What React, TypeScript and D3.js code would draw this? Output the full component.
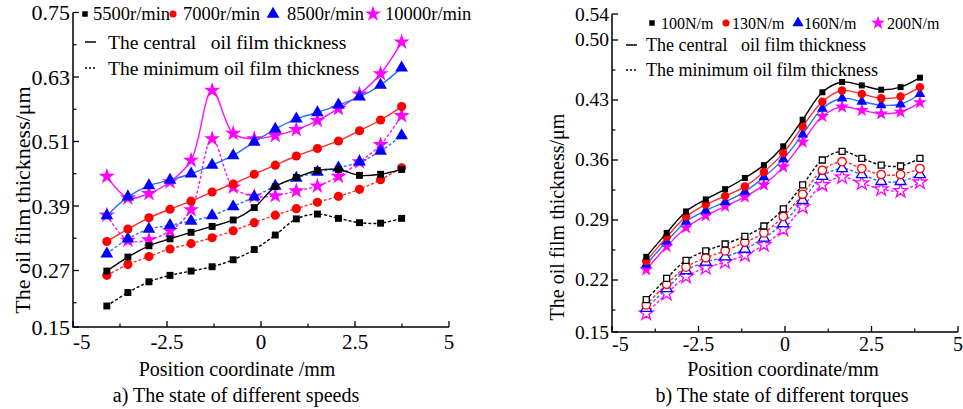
import React from 'react';
import * as d3 from 'd3';

const W = 963;
const H = 409;
const FONT = '"Liberation Serif", "Times New Roman", serif';

// x positions of the measuring points (mm)
const speedX = [-4.1, -3.54, -2.98, -2.42, -1.86, -1.3, -0.74, -0.18, 0.38, 0.94, 1.5, 2.06, 2.62, 3.18, 3.74];
const torqueX = [-4.01, -3.42, -2.86, -2.29, -1.73, -1.16, -0.61, -0.05, 0.51, 1.08, 1.65, 2.22, 2.78, 3.34, 3.9];

// a) different speeds, central / minimum film thickness (um)
const central5500 = [0.269, 0.295, 0.316, 0.329, 0.341, 0.352, 0.364, 0.387, 0.426, 0.443, 0.456, 0.458, 0.447, 0.449, 0.458];
const minimum5500 = [0.204, 0.229, 0.249, 0.261, 0.269, 0.277, 0.29, 0.309, 0.336, 0.366, 0.375, 0.367, 0.359, 0.358, 0.367];
const central7000 = [0.324, 0.347, 0.368, 0.384, 0.399, 0.416, 0.431, 0.449, 0.466, 0.483, 0.497, 0.511, 0.53, 0.55, 0.575];
const minimum7000 = [0.261, 0.281, 0.296, 0.31, 0.32, 0.331, 0.344, 0.359, 0.373, 0.385, 0.397, 0.408, 0.421, 0.439, 0.461];
const central8500 = [0.372, 0.407, 0.428, 0.438, 0.45, 0.466, 0.484, 0.509, 0.533, 0.552, 0.564, 0.578, 0.593, 0.615, 0.647];
const minimum8500 = [0.301, 0.329, 0.347, 0.354, 0.362, 0.372, 0.389, 0.407, 0.427, 0.442, 0.453, 0.461, 0.472, 0.492, 0.521];
const central10000 = [0.445, 0.405, 0.413, 0.435, 0.475, 0.605, 0.525, 0.515, 0.521, 0.532, 0.549, 0.571, 0.598, 0.636, 0.695];
const minimum10000 = [0.373, 0.326, 0.327, 0.344, 0.383, 0.515, 0.425, 0.408, 0.409, 0.418, 0.427, 0.445, 0.472, 0.504, 0.558];

// b) different torques
const central100 = [0.247, 0.275, 0.3, 0.314, 0.326, 0.339, 0.354, 0.376, 0.407, 0.439, 0.451, 0.447, 0.442, 0.445, 0.456];
const central130 = [0.242, 0.27, 0.294, 0.308, 0.318, 0.329, 0.346, 0.368, 0.399, 0.428, 0.441, 0.437, 0.432, 0.434, 0.445];
const central160 = [0.238, 0.265, 0.288, 0.301, 0.311, 0.323, 0.34, 0.361, 0.39, 0.42, 0.432, 0.428, 0.424, 0.425, 0.437];
const central200 = [0.232, 0.259, 0.281, 0.295, 0.306, 0.317, 0.331, 0.352, 0.381, 0.411, 0.422, 0.418, 0.414, 0.416, 0.427];
const minimum100 = [0.197, 0.222, 0.243, 0.254, 0.262, 0.271, 0.283, 0.303, 0.331, 0.36, 0.37, 0.362, 0.354, 0.353, 0.362];
const minimum130 = [0.191, 0.215, 0.235, 0.246, 0.254, 0.264, 0.275, 0.294, 0.32, 0.348, 0.358, 0.35, 0.343, 0.343, 0.35];
const minimum160 = [0.187, 0.21, 0.231, 0.241, 0.247, 0.256, 0.269, 0.286, 0.313, 0.341, 0.35, 0.343, 0.335, 0.335, 0.343];
const minimum200 = [0.181, 0.204, 0.224, 0.234, 0.241, 0.249, 0.261, 0.279, 0.305, 0.331, 0.34, 0.333, 0.326, 0.324, 0.334];

const speedLabels = ['5500r/min', '7000r/min', '8500r/min', '10000r/min'];
const torqueLabels = ['100N/m', '130N/m', '160N/m', '200N/m'];
const xTickLabels = ['-5', '-2.5', '0', '2.5', '5'];
const xMinorTicks = [-3.75, -1.25, 1.25, 3.75];
const speedYTicks = ['0.15', '0.27', '0.39', '0.51', '0.63', '0.75'];
const speedYMinor = [0.21, 0.33, 0.45, 0.57, 0.69];
const torqueYTicks = ['0.15', '0.22', '0.29', '0.36', '0.43', '0.50', '0.54'];
const torqueYMinor = [0.185, 0.255, 0.325, 0.395, 0.465];

const markerColors = ['#000000', '#ff0000', '#0000ff', '#ff00ff'];
const lineColors = ['#000000', '#ff2a2a', '#2a6fff', '#ff10ff'];
const shapes = [d3.symbolSquare, d3.symbolCircle, d3.symbolTriangle, d3.symbolStar];

type Series = { xs: number[]; values: number[]; k: number; dashed: boolean; open: boolean; sizes: number[] };

function Lines({ series, x, y }: { series: Series[]; x: any; y: any }) {
  return (
    <g>
      {series.map((s, si) => {
        const line = d3
          .line<number>()
          .x((_, i) => x(s.xs[i]))
          .y((d) => y(d))
          .curve(d3.curveCatmullRom.alpha(0.5));
        const sym = d3.symbol().type(shapes[s.k]).size(s.sizes[s.k])() as string;
        return (
          <g key={si}>
            <path
              d={line(s.values) as string}
              fill="none"
              stroke={lineColors[s.k]}
              strokeWidth={1.4}
              strokeDasharray={s.dashed ? '3 2' : undefined}
            />
            {s.values.map((v, i) => (
              <path
                key={i}
                d={sym}
                transform={`translate(${x(s.xs[i])},${y(v)})`}
                fill={s.open ? '#fff' : markerColors[s.k]}
                stroke={markerColors[s.k]}
                strokeWidth={s.open ? 1.3 : 0}
              />
            ))}
          </g>
        );
      })}
    </g>
  );
}

function Axes({ x, y, top, bottom, yTicks, yMinor, yFont, xFont, xLabelY }: any) {
  const left = x.range()[0];
  const right = x.range()[1];
  const lo = +yTicks[0];
  const hi = +yTicks[yTicks.length - 1];
  const yPos = (v: number) => (v === lo ? bottom : v === hi ? top : y(v));
  return (
    <g fontFamily={FONT} fill="#000">
      <path d={`M${left},${top}V${bottom}H${right}`} fill="none" stroke="#000" strokeWidth={1.5} />
      {yTicks.map((t: string) => (
        <g key={t}>
          <line x1={left} x2={left + 6} y1={yPos(+t)} y2={yPos(+t)} stroke="#000" strokeWidth={1.3} />
          <text x={left - 3} y={yPos(+t)} textAnchor="end" dominantBaseline="central" fontSize={yFont}>
            {t}
          </text>
        </g>
      ))}
      {yMinor.map((v: number) => (
        <line key={v} x1={left} x2={left + 3.5} y1={y(v)} y2={y(v)} stroke="#000" strokeWidth={1.2} />
      ))}
      {xTickLabels.map((t, i) => (
        <g key={t}>
          <line x1={x(+t)} x2={x(+t)} y1={bottom} y2={bottom - 6} stroke="#000" strokeWidth={1.3} />
          <text
            x={x(+t)}
            y={xLabelY}
            textAnchor={i === 0 ? 'start' : 'middle'}
            dominantBaseline="central"
            fontSize={xFont}
          >
            {t}
          </text>
        </g>
      ))}
      {xMinorTicks.map((v) => (
        <line key={v} x1={x(v)} x2={x(v)} y1={bottom} y2={bottom - 3.5} stroke="#000" strokeWidth={1.2} />
      ))}
    </g>
  );
}

function Legend({ labels, items, rows, font1, font2, sizes }: any) {
  return (
    <g fontFamily={FONT} fill="#000">
      {labels.map((l: string, k: number) => (
        <g key={l}>
          <path
            d={d3.symbol().type(shapes[k]).size(sizes[k])() as string}
            transform={`translate(${items[k][0]},${rows[0]})`}
            fill={markerColors[k]}
          />
          <text x={items[k][1]} y={rows[0]} dominantBaseline="central" fontSize={font1}>
            {l}
          </text>
        </g>
      ))}
      <line x1={rows[3]} x2={rows[3] + 11} y1={rows[1]} y2={rows[1]} stroke="#000" strokeWidth={1.5} />
      <line
        x1={rows[3]}
        x2={rows[3] + 11}
        y1={rows[2]}
        y2={rows[2]}
        stroke="#000"
        strokeWidth={1.5}
        strokeDasharray="2 2"
      />
      <text x={rows[4]} y={rows[1]} dominantBaseline="central" fontSize={font2} style={{ whiteSpace: 'pre' }}>
        {'The central   oil film thickness'}
      </text>
      <text x={rows[4]} y={rows[2]} dominantBaseline="central" fontSize={font2}>
        The minimum oil film thickness
      </text>
    </g>
  );
}

export default function App() {
  const xL = d3.scaleLinear().domain([-5, 5]).range([73, 449]);
  const yL = d3.scaleLinear().domain([0.15, 0.75]).range([335, 12.5]);
  const xR = d3.scaleLinear().domain([-5, 5]).range([612, 958]);
  const yR = d3.scaleLinear().domain([0.15, 0.54]).range([340, 5.7]);

  const sizesL = [48, 66, 70, 80];
  const sizesR = [36, 56, 50, 60];
  const speedCentral = [central5500, central7000, central8500, central10000];
  const speedMin = [minimum5500, minimum7000, minimum8500, minimum10000];
  const torqueCentral = [central100, central130, central160, central200];
  const torqueMin = [minimum100, minimum130, minimum160, minimum200];

  const speedSeries: Series[] = [];
  [3, 2, 1, 0].forEach((k) => {
    speedSeries.push({ xs: speedX, values: speedMin[k], k, dashed: true, open: false, sizes: sizesL });
    speedSeries.push({ xs: speedX, values: speedCentral[k], k, dashed: false, open: false, sizes: sizesL });
  });
  const torqueSeries: Series[] = [];
  [3, 2, 1, 0].forEach((k) => {
    torqueSeries.push({ xs: torqueX, values: torqueMin[k], k, dashed: true, open: true, sizes: sizesR });
    torqueSeries.push({ xs: torqueX, values: torqueCentral[k], k, dashed: false, open: false, sizes: sizesR });
  });

  return (
    <svg
      width={W}
      height={H}
      viewBox={`0 0 ${W} ${H}`}
      style={{ position: 'absolute', left: 0, top: 0, background: '#fff' }}
    >
      <rect width={W} height={H} fill="#fff" />

      {/* a) speeds */}
      <Lines series={speedSeries} x={xL} y={yL} />
      <Axes x={xL} y={yL} top={12.5} bottom={327} yTicks={speedYTicks} yMinor={speedYMinor} yFont={22} xFont={21} xLabelY={342} />
      <Legend
        labels={speedLabels}
        items={[[85, 93], [173, 183], [273, 287], [373, 385]]}
        rows={[14, 42, 68, 85, 108]}
        font1={18.5}
        font2={19.5}
        sizes={[30, 40, 70, 80]}
      />
      <text
        transform="translate(22,200) rotate(-90)"
        textAnchor="middle"
        dominantBaseline="central"
        fontFamily={FONT}
        fontSize={22}
      >
        The oil film thickness/μm
      </text>
      <text x={237} y={369} textAnchor="middle" dominantBaseline="central" fontFamily={FONT} fontSize={20}>
        Position coordinate /mm
      </text>
      <text x={236} y={395} textAnchor="middle" dominantBaseline="central" fontFamily={FONT} fontSize={20}>
        a) The state of different speeds
      </text>

      {/* b) torques */}
      <Lines series={torqueSeries} x={xR} y={yR} />
      <Axes x={xR} y={yR} top={14} bottom={332} yTicks={torqueYTicks} yMinor={torqueYMinor} yFont={19.5} xFont={20} xLabelY={344} />
      <Legend
        labels={torqueLabels}
        items={[[652, 661], [726, 732], [798, 804], [878, 887]]}
        rows={[23, 45, 70, 626, 646]}
        font1={16}
        font2={18}
        sizes={[30, 40, 55, 60]}
      />
      <text
        transform="translate(557,217) rotate(-90)"
        textAnchor="middle"
        dominantBaseline="central"
        fontFamily={FONT}
        fontSize={20}
      >
        The oil film thickness/μm
      </text>
      <text x={783} y={369} textAnchor="middle" dominantBaseline="central" fontFamily={FONT} fontSize={20}>
        Position coordinate/mm
      </text>
      <text x={782} y={395} textAnchor="middle" dominantBaseline="central" fontFamily={FONT} fontSize={20}>
        b) The state of different torques
      </text>
    </svg>
  );
}
